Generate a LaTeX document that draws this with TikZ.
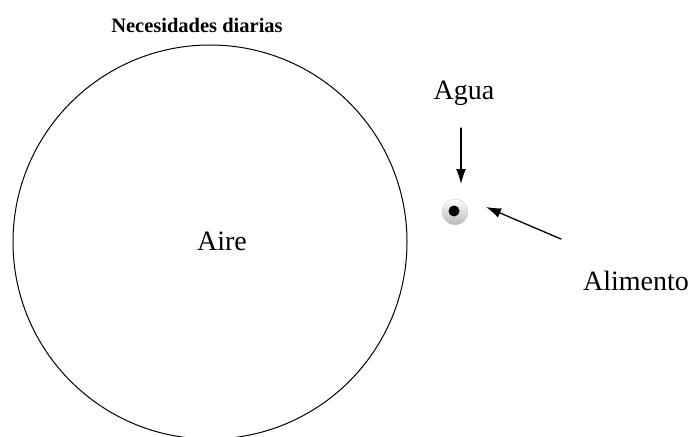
\documentclass[tikz,border=0pt]{standalone}
\usepackage{fontspec}
\setmainfont{Liberation Serif}
\usetikzlibrary{arrows.meta}
\begin{document}
\begin{tikzpicture}[x=1pt,y=-1pt,line cap=round,line join=round,
  flecha/.style={line width=1.3pt,-{Latex[length=15pt,width=10pt]}},
  etiqueta/.style={font=\fontsize{28}{32}\selectfont,inner sep=0pt}]
  \useasboundingbox (0,0) rectangle (695,436);
  \node[circle,draw,line width=1pt,minimum size=394pt,inner sep=0pt] (aire) at (210,242) {};
  \node[etiqueta] at (222,241) {Aire};
  \node[font=\bfseries\fontsize{20.5}{24}\selectfont,inner sep=0pt] (titulo) at (197,25) {Necesidades diarias};
  \shade[top color=white,bottom color=gray!55,draw=gray!40,line width=0.4pt] (455,212) circle (13pt);
  \node[circle,fill=black,minimum size=11pt,inner sep=0pt] (gota) at (454,211) {};
  \node[etiqueta] (agua) at (464,93) {Agua};
  \node[etiqueta] (alimento) at (636,281) {Alimento};
  \coordinate (aguaini) at (461,128);
  \coordinate (aguafin) at (461,184);
  \coordinate (aliini) at (561,239);
  \coordinate (alifin) at (486,207);
  \draw[flecha] (aguaini) -- (aguafin);
  \draw[flecha] (aliini) -- (alifin);
\end{tikzpicture}
\end{document}
